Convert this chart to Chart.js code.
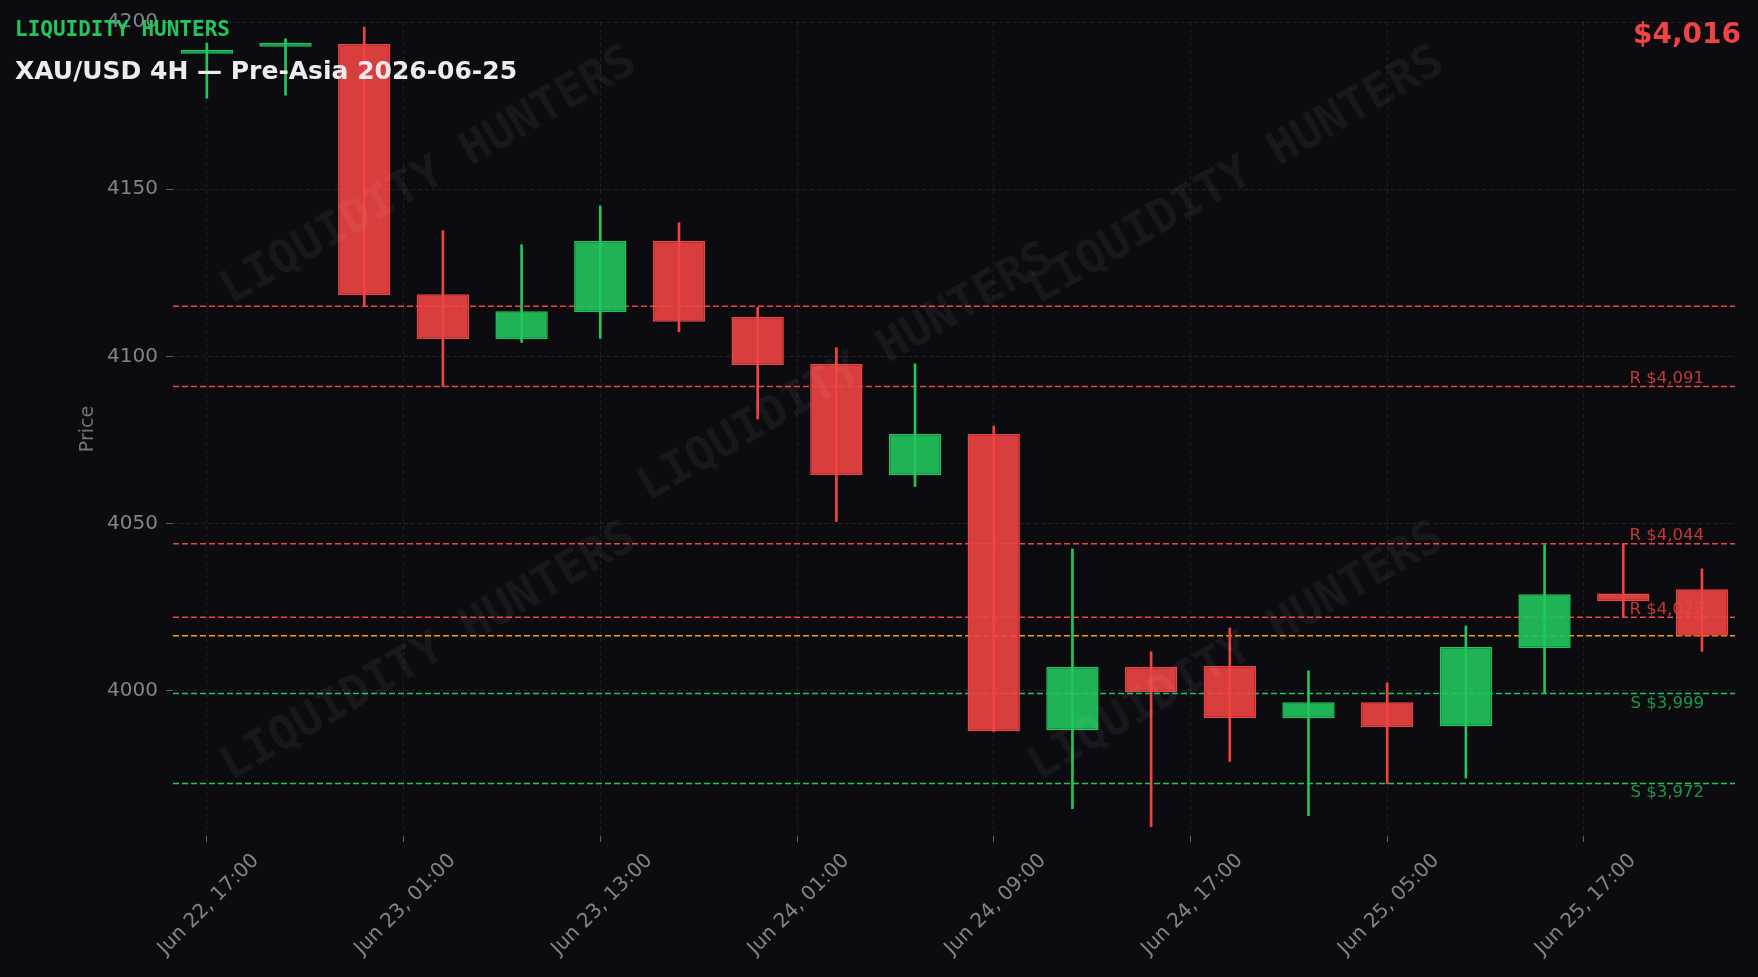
<!DOCTYPE html>
<html>
<head>
<meta charset="utf-8">
<title>XAU/USD 4H — Pre-Asia</title>
<script src="https://cdn.jsdelivr.net/npm/chart.js@4.4.1/dist/chart.umd.min.js"></script>
<style>
  html, body { margin:0; padding:0; background:#0b0b10; }
  #wrap { position:relative; width:1758px; height:977px; }
</style>
</head>
<body>
<div id="wrap"><canvas id="chart"></canvas></div>
<script>
// candles, 4H, oldest first
const opens  = [4190.5, 4192.6, 4193.4, 4118.6, 4105.2, 4113.2, 4134.5, 4111.8, 4097.7, 4064.5,
                4076.8, 3988.2, 4007.1, 4007.4, 3991.8, 3996.6, 3989.4, 4012.8, 4029.1, 4030.4];
const highs  = [4193.7, 4195.0, 4198.5, 4137.6, 4133.4, 4145.0, 4140.0, 4114.7, 4102.6, 4097.8,
                4079.2, 4042.5, 4011.7, 4018.8, 4006.0, 4002.4, 4019.4, 4043.7, 4043.9, 4036.5];
const lows   = [4177.2, 4178.1, 4114.9, 4091.0, 4104.2, 4105.4, 4107.4, 4081.3, 4050.6, 4061.1,
                3987.9, 3964.8, 3959.4, 3978.9, 3962.7, 3972.2, 3973.9, 3999.3, 4022.1, 4011.8];
const closes = [4191.4, 4193.6, 4118.3, 4105.2, 4113.5, 4134.5, 4110.4, 4097.4, 4064.5, 4076.8,
                3987.9, 4007.1, 3999.6, 3991.8, 3996.6, 3989.1, 4013.1, 4028.9, 4026.8, 4016.5];

// x axis ticks (candle index positions) and their labels
const xTickPos    = [0, 2.5, 5, 7.5, 10, 12.5, 15, 17.5];
const xTickLabels = ['Jun 22, 17:00', 'Jun 23, 01:00', 'Jun 23, 13:00', 'Jun 24, 01:00',
                     'Jun 24, 09:00', 'Jun 24, 17:00', 'Jun 25, 05:00', 'Jun 25, 17:00'];
const yTicks = [4000, 4050, 4100, 4150, 4200];

// support / resistance levels
const levelPrices = [4115, 4091, 4044, 4022, 4016.5, 3999.2, 3972.3];
const levelKinds  = ['r', 'r', 'r', 'r', 'last', 's', 's'];
const levelLabels = ['', 'R $4,091', 'R $4,044', 'R $4,022', '', 'S $3,999', 'S $3,972'];

const lastPriceText = '$4,016';
const brandText = 'LIQUIDITY HUNTERS';
const titleText = 'XAU/USD 4H — Pre-Asia 2026-06-25';

const UP = '#22c55e', DOWN = '#ef4444', LAST = '#f59e0b';
const UP_FILL = 'rgba(34,197,94,0.9)', DOWN_FILL = 'rgba(239,68,68,0.9)';
const FONT = '"DejaVu Sans", sans-serif';
const MONO = '"DejaVu Sans Mono", monospace';
const GRID = '#1e1f27';
const TICK_TXT = '#80848e';

const idx = opens.map((_, i) => i);
const isUp = idx.map(i => closes[i] >= opens[i]);

function levelColor(k){ return k === 'r' ? DOWN : (k === 's' ? UP : LAST); }

const bgPlugin = {
  id: 'bg',
  beforeDraw(chart){
    const c = chart.ctx;
    c.save();
    c.fillStyle = '#0b0b10';
    c.fillRect(0, 0, chart.width, chart.height);
    c.restore();
  }
};

// dashed levels + their tags
const levelsPlugin = {
  id: 'levels',
  beforeDatasetsDraw(chart){
    const { ctx, chartArea, scales } = chart;
    ctx.save();
    ctx.lineWidth = 1.6;
    ctx.setLineDash([6, 3]);
    levelPrices.forEach((p, i) => {
      const y = scales.y.getPixelForValue(p);
      ctx.strokeStyle = levelColor(levelKinds[i]);
      ctx.beginPath();
      ctx.moveTo(chartArea.left, y);
      ctx.lineTo(chartArea.right, y);
      ctx.stroke();
    });
    ctx.restore();
  },
  afterDatasetsDraw(chart){
    const { ctx, chartArea, scales } = chart;
    ctx.save();
    ctx.font = '16.5px ' + FONT;
    ctx.textAlign = 'right';
    ctx.textBaseline = 'alphabetic';
    const xr = chartArea.right - 31;
    levelPrices.forEach((p, i) => {
      if(!levelLabels[i]) return;
      const y = scales.y.getPixelForValue(p);
      if(levelKinds[i] === 'r'){
        ctx.fillStyle = 'rgba(239,68,68,0.8)';
        ctx.fillText(levelLabels[i], xr, y - 3.5);
      } else {
        ctx.fillStyle = 'rgba(34,197,94,0.75)';
        ctx.fillText(levelLabels[i], xr, y + 14);
      }
    });
    ctx.restore();
  }
};

// faint diagonal watermark + header texts
const overlayPlugin = {
  id: 'overlay',
  afterDraw(chart){
    const { ctx, chartArea: a } = chart;
    const w = a.right - a.left, h = a.bottom - a.top;
    const spots = [[0.164, 0.19], [0.681, 0.19], [0.431, 0.432], [0.164, 0.775], [0.681, 0.775]];
    ctx.save();
    ctx.beginPath();
    ctx.rect(a.left, a.top, w, h);
    ctx.clip();
    ctx.font = 'bold 46px ' + MONO;
    ctx.fillStyle = 'rgba(255,255,255,0.05)';
    ctx.textAlign = 'center';
    ctx.textBaseline = 'middle';
    spots.forEach(([fx, fy]) => {
      ctx.save();
      ctx.translate(a.left + fx * w, a.top + fy * h);
      ctx.rotate(-Math.PI / 6);
      ctx.fillText(brandText, 0, 0);
      ctx.restore();
    });
    ctx.restore();

    ctx.save();
    ctx.textBaseline = 'alphabetic';
    ctx.textAlign = 'left';
    ctx.font = 'bold 21px ' + MONO;
    ctx.fillStyle = UP;
    ctx.fillText(brandText, 15, 36);
    ctx.font = 'bold 25px ' + FONT;
    ctx.fillStyle = '#ececf0';
    ctx.fillText(titleText, 15, 78.5);
    ctx.textAlign = 'right';
    ctx.font = 'bold 28px ' + FONT;
    ctx.fillStyle = DOWN;
    ctx.fillText(lastPriceText, chart.width - 17, 43);
    ctx.restore();
  }
};

const ctx = document.getElementById('chart');
new Chart(ctx, {
  type: 'bar',
  data: {
    datasets: [
      {
        label: 'wick',
        data: idx.map(i => ({ x: i, y: [lows[i], highs[i]] })),
        backgroundColor: idx.map(i => isUp[i] ? UP : DOWN),
        borderWidth: 0,
        barThickness: 2,
        grouped: false,
        order: 2
      },
      {
        label: 'body',
        data: idx.map(i => ({ x: i, y: [opens[i], closes[i]] })),
        backgroundColor: idx.map(i => isUp[i] ? UP_FILL : DOWN_FILL),
        borderColor: idx.map(i => isUp[i] ? UP : DOWN),
        borderWidth: 1.5,
        borderSkipped: false,
        barPercentage: 0.665,
        categoryPercentage: 1,
        minBarLength: 4,
        grouped: false,
        order: 1
      }
    ]
  },
  options: {
    responsive: true,
    maintainAspectRatio: false,
    animation: false,
    layout: { padding: { left: 70, right: 23, top: 22, bottom: 0 } },
    plugins: { legend: { display: false }, tooltip: { enabled: false } },
    scales: {
      x: {
        type: 'linear',
        min: -0.43,
        max: 19.42,
        offset: false,
        afterBuildTicks: s => { s.ticks = xTickPos.map(v => ({ value: v })); },
        afterFit: s => { s.height = 141; s.paddingLeft = 0; s.paddingRight = 0; },
        ticks: {
          autoSkip: false,
          minRotation: 45,
          maxRotation: 45,
          labelOffset: 49,
          padding: 7,
          color: TICK_TXT,
          font: { family: FONT, size: 20 },
          callback: (v, i) => xTickLabels[i]
        },
        grid: { color: GRID, offset: false, tickColor: '#5d616b', tickLength: 6, tickBorderDash: [], lineWidth: 1 },
        border: { display: false, dash: [4, 3] }
      },
      y: {
        min: 3956.6,
        max: 4200,
        afterBuildTicks: s => { s.ticks = yTicks.map(v => ({ value: v })); },
        afterFit: s => { s.width = 103; s.paddingTop = 0; s.paddingBottom = 0; },
        ticks: { color: TICK_TXT, padding: 8, font: { family: FONT, size: 20 }, callback: v => String(v) },
        grid: { color: GRID, tickColor: '#5d616b', tickLength: 7, tickBorderDash: [], lineWidth: 1 },
        border: { display: false, dash: [4, 3] },
        title: { display: true, text: 'Price', color: '#70747e', font: { family: FONT, size: 19 }, padding: { top: 7, bottom: 4 } }
      }
    }
  },
  plugins: [bgPlugin, levelsPlugin, overlayPlugin]
});
</script>
</body>
</html>
